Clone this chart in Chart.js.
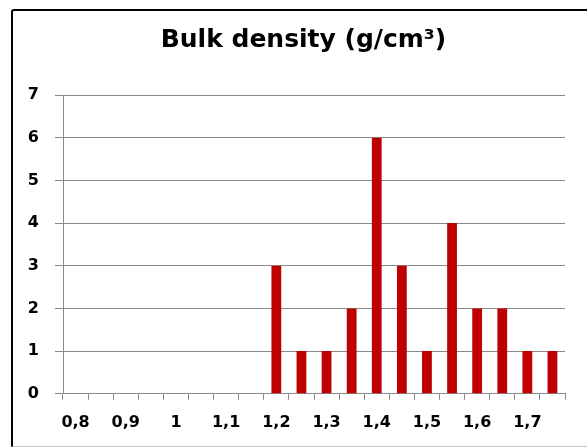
<!DOCTYPE html>
<html>
<head>
<meta charset="utf-8">
<script src="https://cdn.jsdelivr.net/npm/chart.js@4/dist/chart.umd.min.js"></script>
<style>
  html, body { margin: 0; padding: 0; background: #fff; overflow: hidden; }
  #wrap { position: relative; width: 587px; height: 447px; }
  #frame { position: absolute; left: 11px; top: 9px; width: 600px; height: 435px;
           border-top: 2px solid #000; border-left: 2px solid #000; border-bottom: 1px solid #c8c8c8;
           border-top-left-radius: 3px; box-sizing: content-box; }
  canvas { position: absolute; left: 0; top: 0; }
</style>
</head>
<body>
<div id="wrap">
  <div id="frame"></div>
  <canvas id="c" width="587" height="447"></canvas>
</div>
<script>
const chartTitle = 'Bulk density (g/cm³)';
const categories = ['0,8','0,85','0,9','0,95','1','1,05','1,1','1,15','1,2','1,25','1,3','1,35','1,4','1,45','1,5','1,55','1,6','1,65','1,7','1,75'];
const counts = [0,0,0,0,0,0,0,0,3,1,1,2,6,3,1,4,2,2,1,1];
const xTickLabels = ['0,8','','0,9','','1','','1,1','','1,2','','1,3','','1,4','','1,5','','1,6','','1,7',''];
const yTicks = [0,1,2,3,4,5,6,7];

const gridColor = '#8a8a8a';
const tickFont = { family: 'DejaVu Sans', weight: 'bold', size: 16 };

const shiftTitle = {
  id: 'shiftTitle',
  afterLayout(chart) {
    const t = chart.titleBlock;
    if (t) { t.left += 14; t.right += 14; }
  }
};

new Chart(document.getElementById('c'), {
  type: 'bar',
  data: {
    labels: categories,
    datasets: [{
      data: counts,
      backgroundColor: '#C00000',
      borderWidth: 0,
      barPercentage: 0.39,
      categoryPercentage: 1.0
    }]
  },
  plugins: [shiftTitle],
  options: {
    responsive: false,
    animation: false,
    devicePixelRatio: 1,
    layout: { padding: { left: 14, right: 22, top: 14, bottom: 2 } },
    plugins: {
      legend: { display: false },
      tooltip: { enabled: false },
      title: {
        display: true,
        text: chartTitle,
        color: '#000',
        font: { family: 'DejaVu Sans', weight: 'bold', size: 25 },
        padding: { top: 11.5, bottom: 39.5 }
      }
    },
    scales: {
      x: {
        grid: { display: true, drawOnChartArea: false, drawTicks: true, tickLength: 6, color: gridColor, offset: true },
        border: { display: true, color: gridColor, width: 1 },
        ticks: {
          autoSkip: false, maxRotation: 0, minRotation: 0, color: '#000', font: tickFont, padding: 13,
          callback: (v, i) => xTickLabels[i]
        }
      },
      y: {
        min: 0, max: 7,
        afterFit: (s) => { s.width = 49; },
        afterBuildTicks: (s) => { s.ticks = yTicks.map(v => ({ value: v })); },
        grid: { color: gridColor, tickLength: 8, drawTicks: true },
        border: { display: true, color: gridColor, width: 1 },
        ticks: { color: '#000', font: tickFont, padding: 16, stepSize: 1 }
      }
    }
  }
});
</script>
</body>
</html>
